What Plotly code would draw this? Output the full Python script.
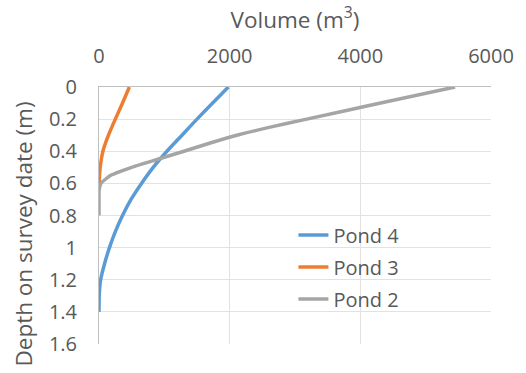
import plotly.graph_objects as go

# Depth (m) and volume (m3) for each pond
depth_pond4 = [0, 0.1, 0.2, 0.3, 0.4, 0.5, 0.6, 0.7, 0.8, 0.9, 1.0, 1.1, 1.2, 1.3, 1.4]
vol_pond4 = [1980, 1740, 1500, 1270, 1040, 830, 650, 490, 360, 250, 160, 85, 25, 3, 0]

depth_pond3 = [0, 0.1, 0.2, 0.3, 0.4, 0.5, 0.55, 0.6, 0.62]
vol_pond3 = [465, 360, 250, 145, 60, 18, 8, 2, 0]

depth_pond2 = [0, 0.1, 0.2, 0.25, 0.3, 0.35, 0.4, 0.45, 0.5, 0.55, 0.6, 0.65, 0.7, 0.8]
vol_pond2 = [5450, 4310, 3180, 2620, 2110, 1690, 1300, 900, 500, 180, 30, 0, 0, 0]

x_ticks = [0, 2000, 4000, 6000]
y_ticks = [0, 0.2, 0.4, 0.6, 0.8, 1, 1.2, 1.4, 1.6]
y_tick_labels = ["0", "0.2", "0.4", "0.6", "0.8", "1", "1.2", "1.4", "1.6"]

series = [
    ("Pond 4", vol_pond4, depth_pond4, "#5B9BD5"),
    ("Pond 3", vol_pond3, depth_pond3, "#ED7D31"),
    ("Pond 2", vol_pond2, depth_pond2, "#A5A5A5"),
]

FONT = "Open Sans"
TXT = "#595959"

fig = go.Figure()
for name, xs, ys, color in series:
    fig.add_trace(go.Scatter(
        x=xs, y=ys, name=name, mode="lines", legendgroup=name,
        line=dict(color=color, width=3.5, shape="spline", smoothing=0.5),
    ))

fig.update_layout(
    width=526, height=373,
    margin=dict(l=99, r=32, t=87, b=29),
    paper_bgcolor="white", plot_bgcolor="white",
    font=dict(family=FONT, size=20, color=TXT),
    showlegend=True,
    legend=dict(
        x=0.496, y=0.50, xanchor="left", yanchor="top",
        bgcolor="rgba(0,0,0,0)", borderwidth=0,
        font=dict(family=FONT, size=20, color=TXT),
        traceorder="grouped", tracegroupgap=3,
    ),
    xaxis=dict(
        side="top", range=[0, 6000], tickvals=x_ticks,
        showgrid=True, gridcolor="#E2E2E2", gridwidth=1,
        showline=True, linecolor="#BFBFBF", linewidth=1,
        zeroline=False, ticks="", ticklabelstandoff=15,
        title=dict(text="Volume (m<sup>3</sup>)", standoff=7,
                   font=dict(family=FONT, size=22.5, color=TXT)),
    ),
    yaxis=dict(
        range=[1.6, 0], tickvals=y_ticks, ticktext=y_tick_labels,
        showgrid=True, gridcolor="#E2E2E2", gridwidth=1,
        showline=True, linecolor="#BFBFBF", linewidth=1,
        zeroline=False, ticks="", ticklabelstandoff=17,
    ),
    annotations=[dict(
        text="Depth on survey date (m)", textangle=-90,
        xref="paper", yref="paper", x=-0.195, y=0.428,
        xanchor="center", yanchor="middle", showarrow=False,
        font=dict(family=FONT, size=22.5, color=TXT),
    )],
)

fig.write_html("out.html")
